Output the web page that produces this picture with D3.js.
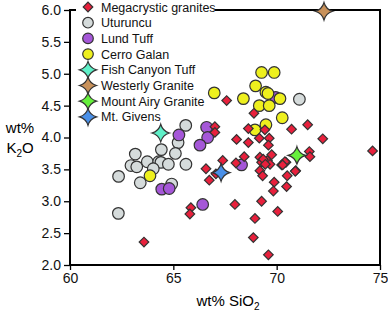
<!DOCTYPE html>
<html>
<head>
<meta charset="utf-8">
<script src="https://cdn.jsdelivr.net/npm/d3@7"></script>
<style>
  body { margin: 0; background: #fff; }
  svg { font-family: "Liberation Sans", Arial, Helvetica, sans-serif; }
</style>
</head>
<body>
<div id="chart"></div>
<script>
// axis ticks
const xTicks = [60, 65, 70, 75];
const yTicks = [2.0, 2.5, 3.0, 3.5, 4.0, 4.5, 5.0, 5.5, 6.0];

// Megacrystic granites
const megaSiO2 = [67.58, 68.90, 67.01, 67.01, 68.63, 69.43, 70.72, 71.50, 72.23, 74.64,
  68.06, 68.63, 69.16, 69.64, 69.60, 67.39, 66.58, 67.06, 66.74, 68.03,
  68.43, 69.19, 69.27, 69.55, 69.76, 69.68, 69.19, 69.32, 69.88, 69.84,
  70.24, 70.45, 70.51, 70.48, 70.92, 71.58, 71.61, 70.40, 70.29, 70.90,
  65.85, 67.98, 69.27, 68.95, 70.05, 68.87, 69.60, 63.58, 65.80, 69.35, 69.45];
const megaK2O = [4.58, 4.38, 4.17, 4.08, 4.14, 4.12, 4.13, 4.20, 3.98, 3.79,
  3.97, 3.92, 3.99, 3.99, 3.88, 3.64, 3.51, 3.43, 3.33, 3.60,
  3.70, 3.69, 3.61, 3.64, 3.73, 3.58, 3.48, 3.40, 3.30, 3.16,
  3.57, 3.61, 3.40, 3.23, 3.48, 3.78, 3.70, 3.62, 3.57, 3.47,
  2.90, 2.95, 3.00, 2.73, 2.84, 2.43, 2.16, 2.36, 2.80, 3.66, 3.58];

// Uturuncu
const utuSiO2 = [65.60, 65.23, 64.42, 65.10, 63.16, 62.95, 63.23, 63.74, 64.29, 64.40,
  64.76, 64.03, 62.35, 63.40, 64.92, 62.34, 65.61, 71.10];
const utuK2O = [4.19, 3.92, 3.81, 3.75, 3.74, 3.56, 3.54, 3.62, 3.62, 3.61,
  3.58, 3.51, 3.39, 3.29, 3.27, 2.81, 3.58, 4.60];

// Lund Tuff
const lundSiO2 = [65.27, 64.44, 64.80, 66.61, 66.66, 66.29, 68.30, 66.42, 69.95];
const lundK2O = [4.04, 3.19, 3.20, 4.16, 4.00, 3.88, 3.57, 2.95, 4.63];

// Cerro Galan
const galanSiO2 = [63.87, 69.27, 69.88, 66.98, 68.98, 69.48, 69.58, 70.16, 68.39, 69.16,
  69.64, 70.27, 68.95, 69.48];
const galanK2O = [3.40, 5.02, 5.02, 4.70, 4.81, 4.71, 4.69, 4.61, 4.61, 4.50,
  4.50, 4.31, 4.12, 4.20];

// single samples (stars)
const starNames = ["Fish Canyon Tuff", "Westerly Granite", "Mount Airy Granite", "Mt. Givens"];
const starSiO2 = [64.39, 72.29, 70.98, 67.31];
const starK2O = [4.07, 5.98, 3.72, 3.45];
const starColors = ["#5ff0c8", "#c8915a", "#66f03c", "#4a90e8"];

const width = 388, height = 313;
const margin = {left: 70, right: 8, top: 10, bottom: 48};

const svg = d3.select('#chart').append('svg')
  .attr('width', width)
  .attr('height', height);

const x = d3.scaleLinear().domain([60, 75]).range([margin.left, width - margin.right]);
const y = d3.scaleLinear().domain([2, 6]).range([height - margin.bottom, margin.top]);

const stroke = '#333';

// frame
svg.append('rect')
  .attr('x', x(60)).attr('y', y(6))
  .attr('width', x(75) - x(60)).attr('height', y(2) - y(6))
  .attr('fill', 'none').attr('stroke', '#000').attr('stroke-width', 2);

svg.append('g')
  .attr('transform', `translate(0,${y(2)})`)
  .call(d3.axisBottom(x).tickValues(xTicks).tickSize(5).tickPadding(3).tickFormat(d3.format('d')))
  .call(g => g.select('.domain').remove())
  .call(g => g.selectAll('line').attr('stroke-width', 1.3))
  .call(g => g.selectAll('text').attr('font-size', 14).attr('fill', '#111').attr('font-family', null));

svg.append('g')
  .attr('transform', `translate(${x(60)},0)`)
  .call(d3.axisLeft(y).tickValues(yTicks).tickSize(6).tickPadding(3).tickFormat(d3.format('.1f')))
  .call(g => g.select('.domain').remove())
  .call(g => g.selectAll('line').attr('stroke-width', 1.3))
  .call(g => g.selectAll('text').attr('font-size', 14).attr('fill', '#111').attr('font-family', null));

// axis titles
const xt = svg.append('text')
  .attr('x', 228).attr('y', 306)
  .attr('text-anchor', 'middle').attr('font-size', 15);
xt.append('tspan').text('wt% SiO');
xt.append('tspan').text('2').attr('font-size', 10).attr('dy', 4);

svg.append('text')
  .attr('x', 20).attr('y', 133)
  .attr('text-anchor', 'middle').attr('font-size', 15)
  .text('wt%');
const yt = svg.append('text')
  .attr('x', 20).attr('y', 153)
  .attr('text-anchor', 'middle').attr('font-size', 15);
yt.append('tspan').text('K');
yt.append('tspan').text('2').attr('font-size', 10).attr('dy', 4);
yt.append('tspan').text('O').attr('dy', -4);

// legend background hides the top frame line
svg.append('rect')
  .attr('x', 76).attr('y', 0).attr('width', 139).attr('height', 124)
  .attr('fill', '#fff');

const diamond = d3.symbol().type(d3.symbolSquare).size(46)();
function star(r) {
  const k = r * 0.22;
  return `M0,${-r} Q${k},${-k} ${r},0 Q${k},${k} 0,${r} Q${-k},${k} ${-r},0 Q${-k},${-k} 0,${-r}Z`;
}

function drawCircles(sx, sy, fill) {
  svg.append('g').selectAll('circle')
    .data(d3.zip(sx, sy))
    .join('circle')
    .attr('cx', d => x(d[0]))
    .attr('cy', d => y(d[1]))
    .attr('r', 5.8)
    .attr('fill', fill)
    .attr('stroke', stroke)
    .attr('stroke-width', 1.2);
}

drawCircles(utuSiO2, utuK2O, '#d5dbdb');
drawCircles(lundSiO2, lundK2O, '#a557d8');
drawCircles(galanSiO2, galanK2O, '#eef01e');

svg.append('g').selectAll('path')
  .data(d3.zip(megaSiO2, megaK2O))
  .join('path')
  .attr('d', diamond)
  .attr('transform', d => `translate(${x(d[0])},${y(d[1])}) rotate(45)`)
  .attr('fill', '#e8203c')
  .attr('stroke', stroke)
  .attr('stroke-width', 1.2);

svg.append('g').selectAll('path')
  .data(starNames.map((n, i) => [starSiO2[i], starK2O[i], starColors[i]]))
  .join('path')
  .attr('d', star(8.8))
  .attr('transform', d => `translate(${x(d[0])},${y(d[1])})`)
  .attr('fill', d => d[2])
  .attr('stroke', stroke)
  .attr('stroke-width', 1.2);

// legend
const legendItems = [
  {name: 'Megacrystic granites', kind: 'diamond', color: '#e8203c'},
  {name: 'Uturuncu', kind: 'circle', color: '#d5dbdb'},
  {name: 'Lund Tuff', kind: 'circle', color: '#a557d8'},
  {name: 'Cerro Galan', kind: 'circle', color: '#eef01e'}
].concat(starNames.map((n, i) => ({name: n, kind: 'star', color: starColors[i]})));

const legend = svg.append('g').attr('transform', 'translate(88,7)');
legendItems.forEach((item, i) => {
  const g = legend.append('g').attr('transform', `translate(0,${i * 15.7})`);
  if (item.kind === 'diamond') {
    g.append('path').attr('d', diamond).attr('transform', 'rotate(45)')
      .attr('fill', item.color).attr('stroke', stroke).attr('stroke-width', 1.2);
  } else if (item.kind === 'circle') {
    g.append('circle').attr('r', 5.3)
      .attr('fill', item.color).attr('stroke', stroke).attr('stroke-width', 1.2);
  } else {
    g.append('path').attr('d', star(8.5))
      .attr('fill', item.color).attr('stroke', stroke).attr('stroke-width', 1.2);
  }
  g.append('text')
    .attr('x', 13).attr('y', 4.5)
    .attr('font-size', 12.5)
    .attr('fill', '#111')
    .text(item.name);
});
</script>
</body>
</html>
